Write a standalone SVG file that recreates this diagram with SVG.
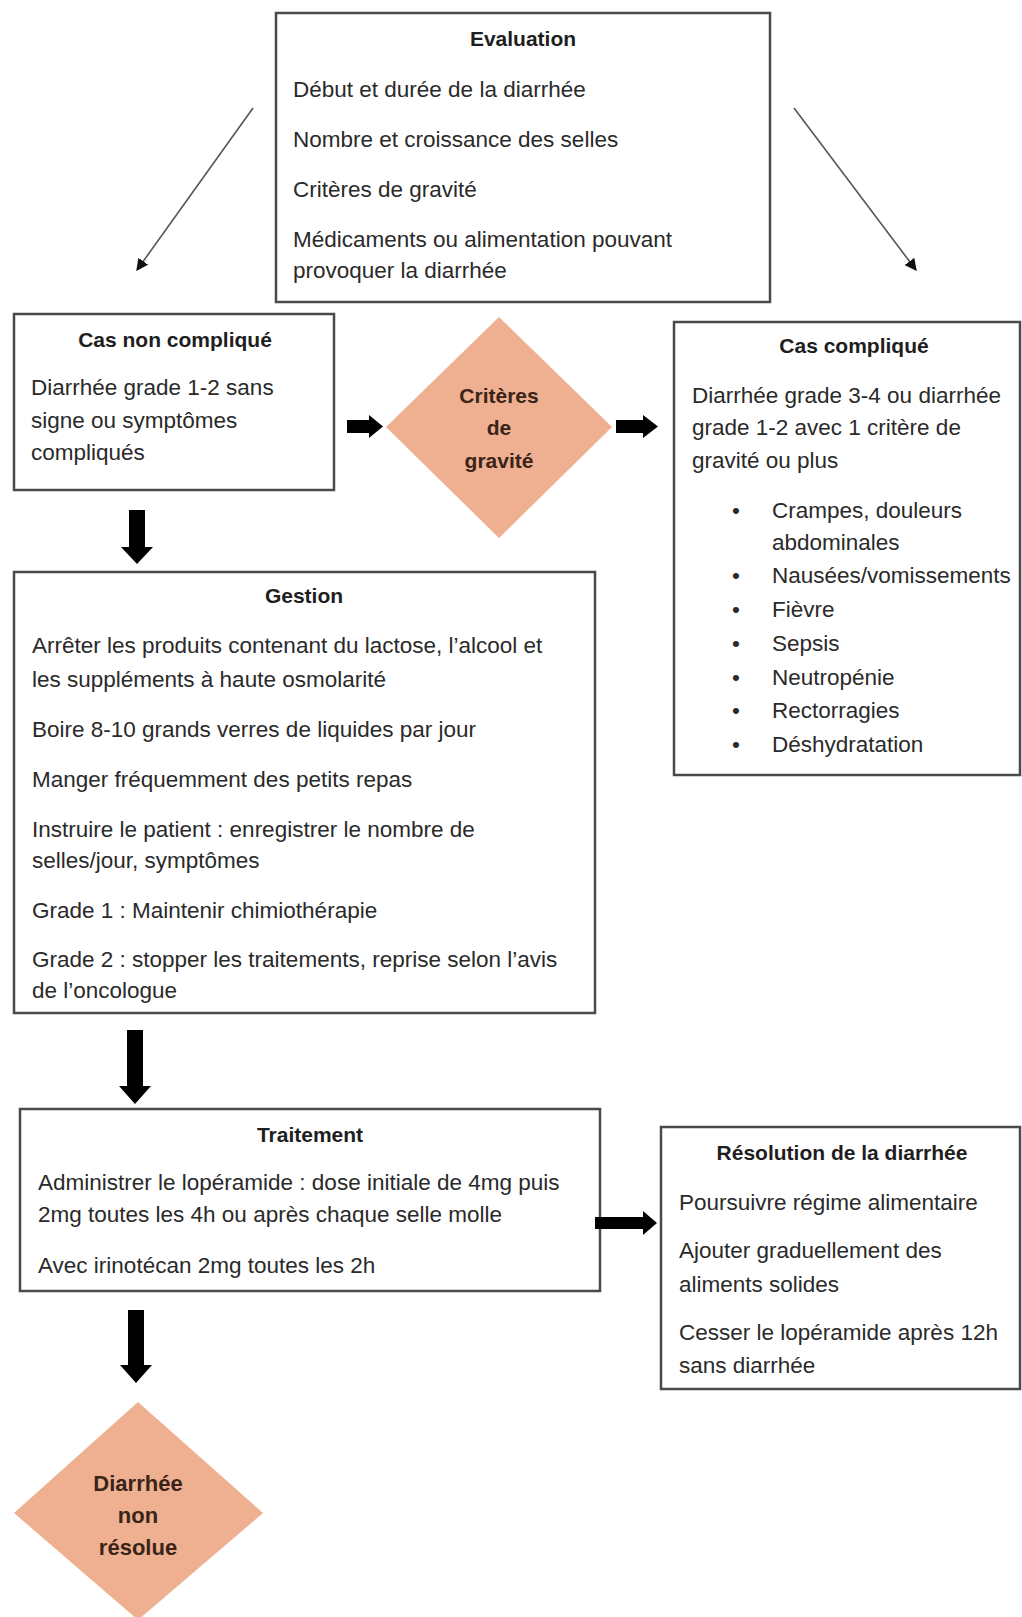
<svg xmlns="http://www.w3.org/2000/svg" width="1022" height="1617" viewBox="0 0 1022 1617">
<defs>
<style>
.box{fill:#fff;stroke:#4a4a4a;stroke-width:2.5}
.dia{fill:#EFB091;stroke:none}
.t{font-family:"Liberation Sans",Arial,sans-serif;font-size:22.5px;fill:#2a2a2a}
.h{font-family:"Liberation Sans",Arial,sans-serif;font-size:21px;font-weight:bold;fill:#1e1e1e;text-anchor:middle}
.dt{font-family:"Liberation Sans",Arial,sans-serif;font-weight:bold;fill:#3a2418;text-anchor:middle}
.thin{stroke:#555;stroke-width:1.6;fill:none}
.blk{fill:#000}
</style>
<marker id="ah" viewBox="0 0 10 10" refX="9" refY="5" markerWidth="12" markerHeight="12" markerUnits="userSpaceOnUse" orient="auto">
<path d="M0,0 L10,5 L0,10 Z" fill="#111"/>
</marker>
</defs>
<rect width="1022" height="1617" fill="#fff"/>

<g id="evaluation">
<rect class="box" x="276" y="13" width="494" height="289"/>
<text class="h" x="523" y="46">Evaluation</text>
<text class="t" x="293" y="97">Début et durée de la diarrhée</text>
<text class="t" x="293" y="147">Nombre et croissance des selles</text>
<text class="t" x="293" y="197">Critères de gravité</text>
<text class="t" x="293" y="247">Médicaments ou alimentation pouvant</text>
<text class="t" x="293" y="278">provoquer la diarrhée</text>
</g>

<g id="cas-non-complique">
<rect class="box" x="14" y="314" width="320" height="176"/>
<text class="h" x="175" y="347">Cas non compliqué</text>
<text class="t" x="31" y="395">Diarrhée grade 1-2 sans</text>
<text class="t" x="31" y="428">signe ou symptômes</text>
<text class="t" x="31" y="460">compliqués</text>
</g>

<g id="criteres-gravite">
<polygon class="dia" points="499,317 612,427 499,538 386,427"/>
<text class="dt" x="499" y="403" font-size="21">Critères</text>
<text class="dt" x="499" y="435" font-size="21">de</text>
<text class="dt" x="499" y="468" font-size="21">gravité</text>
</g>

<g id="cas-complique">
<rect class="box" x="674" y="322" width="346" height="453"/>
<text class="h" x="854" y="353">Cas compliqué</text>
<text class="t" x="692" y="403">Diarrhée grade 3-4 ou diarrhée</text>
<text class="t" x="692" y="435">grade 1-2 avec 1 critère de</text>
<text class="t" x="692" y="468">gravité ou plus</text>
<g class="t">
<text x="732" y="518">•</text><text x="772" y="518">Crampes, douleurs</text>
<text x="772" y="550">abdominales</text>
<text x="732" y="583">•</text><text x="772" y="583">Nausées/vomissements</text>
<text x="732" y="617">•</text><text x="772" y="617">Fièvre</text>
<text x="732" y="651">•</text><text x="772" y="651">Sepsis</text>
<text x="732" y="685">•</text><text x="772" y="685">Neutropénie</text>
<text x="732" y="718">•</text><text x="772" y="718">Rectorragies</text>
<text x="732" y="752">•</text><text x="772" y="752">Déshydratation</text>
</g>
</g>

<g id="gestion">
<rect class="box" x="14" y="572" width="581" height="441"/>
<text class="h" x="304" y="603">Gestion</text>
<text class="t" x="32" y="653">Arrêter les produits contenant du lactose, l’alcool et</text>
<text class="t" x="32" y="687">les suppléments à haute osmolarité</text>
<text class="t" x="32" y="737">Boire 8-10 grands verres de liquides par jour</text>
<text class="t" x="32" y="787">Manger fréquemment des petits repas</text>
<text class="t" x="32" y="837">Instruire le patient : enregistrer le nombre de</text>
<text class="t" x="32" y="868">selles/jour, symptômes</text>
<text class="t" x="32" y="918">Grade 1 : Maintenir chimiothérapie</text>
<text class="t" x="32" y="967">Grade 2 : stopper les traitements, reprise selon l’avis</text>
<text class="t" x="32" y="998">de l’oncologue</text>
</g>

<g id="traitement">
<rect class="box" x="20" y="1109" width="580" height="182"/>
<text class="h" x="310" y="1142">Traitement</text>
<text class="t" x="38" y="1190">Administrer le lopéramide : dose initiale de 4mg puis</text>
<text class="t" x="38" y="1222">2mg toutes les 4h ou après chaque selle molle</text>
<text class="t" x="38" y="1273">Avec irinotécan 2mg toutes les 2h</text>
</g>

<g id="resolution">
<rect class="box" x="661" y="1127" width="359" height="262"/>
<text class="h" x="842" y="1160">Résolution de la diarrhée</text>
<text class="t" x="679" y="1210">Poursuivre régime alimentaire</text>
<text class="t" x="679" y="1258">Ajouter graduellement des</text>
<text class="t" x="679" y="1292">aliments solides</text>
<text class="t" x="679" y="1340">Cesser le lopéramide après 12h</text>
<text class="t" x="679" y="1373">sans diarrhée</text>
</g>

<g id="diarrhee-non-resolue">
<polygon class="dia" points="138,1402 263,1513 138,1620 14,1513"/>
<text class="dt" x="138" y="1491" font-size="22">Diarrhée</text>
<text class="dt" x="138" y="1523" font-size="22">non</text>
<text class="dt" x="138" y="1555" font-size="22">résolue</text>
</g>

<g id="connectors">
<line class="thin" x1="253" y1="108" x2="137" y2="270" marker-end="url(#ah)"/>
<line class="thin" x1="794" y1="108" x2="916" y2="270" marker-end="url(#ah)"/>
<path class="blk" d="M347,420 H369 V415 L383,426.5 L369,438 V433 H347 Z"/>
<path class="blk" d="M616,420 H643 V415 L658,426.5 L643,438 V433 H616 Z"/>
<path class="blk" d="M129,510 H145 V547 H153 L137,564 L121,547 H129 Z"/>
<path class="blk" d="M127,1030 H143 V1086 H151 L135,1104 L119,1086 H127 Z"/>
<path class="blk" d="M128,1310 H144 V1365 H152 L136,1383 L120,1365 H128 Z"/>
<path class="blk" d="M595,1217 H643 V1211 L657,1223 L643,1235 V1229 H595 Z"/>
</g>
</svg>
